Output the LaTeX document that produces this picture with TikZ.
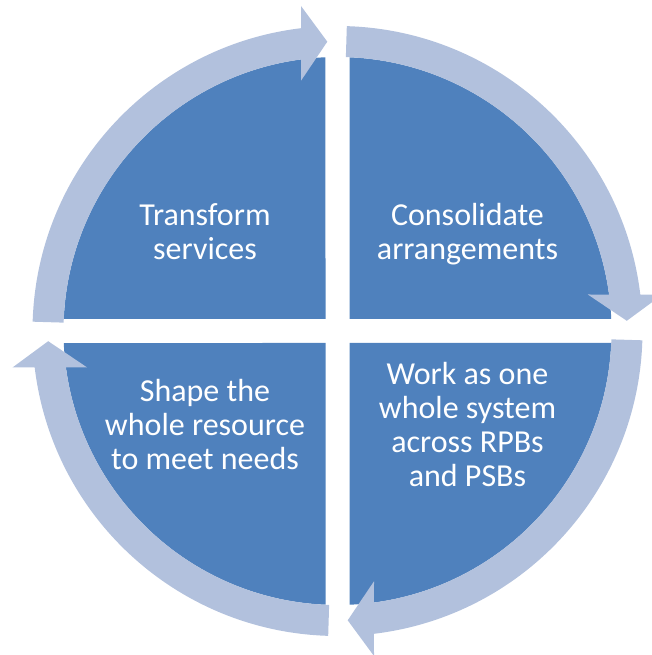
\documentclass[tikz,border=0pt]{standalone}
\usepackage{fontspec}
\setmainfont{Carlito}
\usepackage{xcolor}
\definecolor{segblue}{HTML}{4F81BD}
\definecolor{ringblue}{HTML}{B2C1DD}

\begin{document}
\begin{tikzpicture}[x=0.75pt, y=0.75pt]
	\tikzstyle{segment} = [fill=segblue, draw=none]
	\tikzstyle{cycarrow} = [fill=ringblue, draw=none]
	\tikzstyle{celltext} = [text=white, align=center, font=\fontsize{24}{25.5}\selectfont]

	\useasboundingbox (-337.5,-324) rectangle (313.5,331);

	% four quarter segments, pulled apart by a white cross
	\foreach \rot in {0,90,180,270} {
		\fill[segment, rotate=\rot] (12,12) -- (12,273.74) arc[start angle=87.49, end angle=2.51, radius=274] -- cycle;
	}

	% clockwise ring of arrows
	\foreach \rot in {0,-90,-180,-270} {
		\fill[cycarrow, rotate=\rot] (178.25:274) -- (178.25:305) arc[start angle=178.25, end angle=96.87, radius=305]
			-- (-36.5,325) -- (-10.2,289.3) -- (-36.5,250.3)
			-- (97.65:274) arc[start angle=97.65, end angle=178.25, radius=274] -- cycle;
	}

	\node[celltext] at (-132.5, 99.3)	(transform)		{Transform\\services};
	\node[celltext] at (130, 97)		(consolidate)	{Consolidate\\arrangements};
	\node[celltext] at (130, -93.3)		(wholesys)		{Work as one\\whole system\\across RPBs\\and PSBs};
	\node[celltext] at (-132.5, -93.5)	(shape)			{Shape the\\whole resource\\to meet needs};
\end{tikzpicture}
\end{document}
